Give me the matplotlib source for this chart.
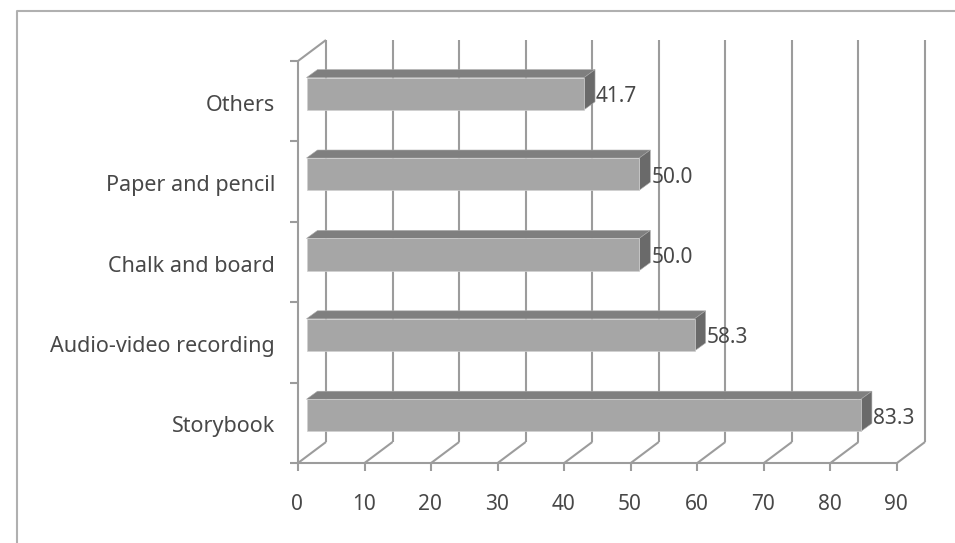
import matplotlib.pyplot as plt
from matplotlib.lines import Line2D
from matplotlib.patches import Polygon
from matplotlib.transforms import Affine2D

categories = ["Storybook", "Audio-video recording", "Chalk and board", "Paper and pencil", "Others"]
values = [83.3, 58.3, 50.0, 50.0, 41.7]
x_ticks = [0, 10, 20, 30, 40, 50, 60, 70, 80, 90]

W, H = 955, 543
GRID = "#9c9c9c"
TEXT = "#484848"
FS = 15
plt.rcParams["font.family"] = "Noto Sans"
plt.rcParams["lines.solid_capstyle"] = "butt"

fig = plt.figure(figsize=(W / 100, H / 100), dpi=100)
ax = fig.add_axes([298 / W, 1 - 463 / H, 599 / W, 402 / H])
ax.set_xlim(0, 90)
ax.set_ylim(0, 5)
ax.axis("off")

# offsets in pixels for the fake 3d look
wall_tr = ax.transData + Affine2D().translate(28, 21)
bar_tr = ax.transData + Affine2D().translate(8.5, 7.5)
DX, DY = 11, 8


def px_line(x, y, **kw):
    # line given in display pixels, drawn on the figure
    fig.add_artist(Line2D([a / W for a in x], [b / H for b in y], color=GRID, lw=1.5, **kw))


# back wall and floor
for t in x_ticks:
    ax.plot([t, t], [0, 5], color=GRID, lw=1.5, transform=wall_tr, clip_on=False, zorder=1)
    x0, y0 = ax.transData.transform((t, 0))
    px_line([x0, x0 + 28], [y0, y0 + 21])
x0, y0 = ax.transData.transform((0, 5))
px_line([x0, x0 + 28], [y0, y0 + 21])

# front axis lines and ticks
ax.plot([0, 0], [0, 5], color=GRID, lw=1.5, clip_on=False, zorder=2)
ax.plot([0, 90], [0, 0], color=GRID, lw=1.5, clip_on=False, zorder=2)
for t in x_ticks:
    x0, y0 = ax.transData.transform((t, 0))
    px_line([x0, x0], [y0, y0 - 8])
    ax.annotate(str(t), (t, 0), xytext=(-1, -42), textcoords="offset pixels", ha="center",
                va="center", fontsize=FS, color=TEXT)
for i in range(6):
    x0, y0 = ax.transData.transform((0, i))
    px_line([x0 - 8, x0], [y0, y0])

# bars: front face plus top and side faces
ypos = [i + 0.5 for i in range(len(values))]
ax.barh(ypos, values, height=0.4, color="#a6a6a6", edgecolor="#d0d0d0", lw=0.5, transform=bar_tr,
        clip_on=False, zorder=5)
for y, v, name in zip(ypos, values, categories):
    p0 = bar_tr.transform((0, y + 0.2))
    p1 = bar_tr.transform((v, y + 0.2))
    p2 = bar_tr.transform((v, y - 0.2))
    top = [p0, p1, (p1[0] + DX, p1[1] + DY), (p0[0] + DX, p0[1] + DY)]
    side = [p1, p2, (p2[0] + DX, p2[1] + DY), (p1[0] + DX, p1[1] + DY)]
    ax.add_patch(Polygon(top, closed=True, fc="#7f7f7f", ec="#a8a8a8", lw=0.4, transform=None, zorder=4))
    ax.add_patch(Polygon(side, closed=True, fc="#6a6a6a", ec="#a8a8a8", lw=0.4, transform=None, zorder=4))
    ax.annotate(f"{v:.1f}", (v, y), xytext=(12, -3), textcoords="offset pixels", xycoords=bar_tr,
                ha="left", va="center", fontsize=FS, color=TEXT, zorder=6)
    ax.annotate(name, (0, y), xytext=(-23, -4), textcoords="offset pixels", ha="right", va="center",
                fontsize=15.5, color=TEXT)

# outer frame, open on the right and at the bottom
fig.add_artist(Line2D([17 / W, 17 / W, 1], [0, 1 - 11 / H, 1 - 11 / H], color="#b0b0b0", lw=1.5))

fig.savefig("out.png", dpi=100)
